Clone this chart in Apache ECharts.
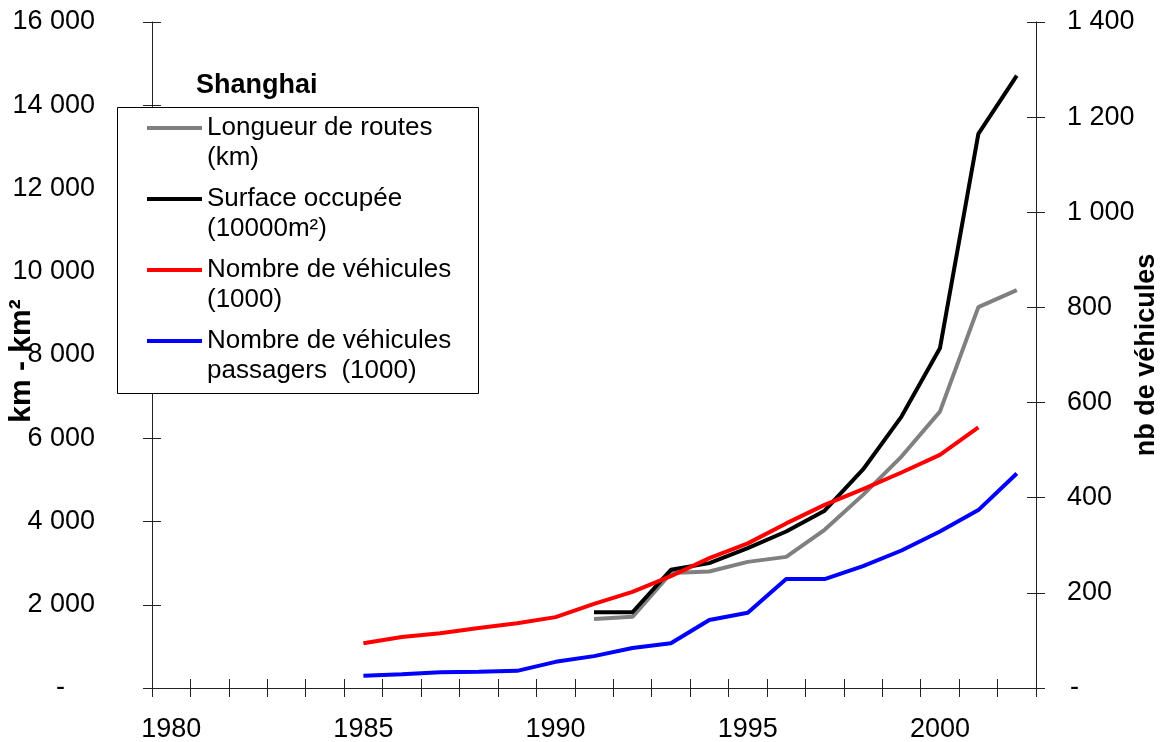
<!DOCTYPE html>
<html lang="fr">
<head>
    <meta charset="UTF-8">
    <title>Shanghai</title>
    <style>
        html, body { margin: 0; padding: 0; background: #fff; }
    </style>
</head>
<body>
<div id="main" style="width: 1166px;height: 742px;"></div>
<script src="https://cdn.jsdelivr.net/npm/echarts@6/dist/echarts.min.js"></script>
<script type="text/javascript">
    // années (axe des x)
    var years = [];
    for (var y = 1980; y <= 2002; y++) years.push(String(y));

    var leftTicks = [0, 2000, 4000, 6000, 8000, 10000, 12000, 14000, 16000];
    var rightTicks = [0, 200, 400, 600, 800, 1000, 1200, 1400];

    var seriesNames = [
        'Longueur de routes\n(km)',
        'Surface occupée\n(10000m²)',
        'Nombre de véhicules\n(1000)',
        'Nombre de véhicules\npassagers  (1000)'
    ];

    // 1980 -> 2002, null = pas de donnée
    var routes = [null, null, null, null, null, null, null, null, null, null, null,
        1660, 1710, 2760, 2800, 3030, 3150, 3800, 4640, 5560, 6640, 9150, 9560];
    var surface = [null, null, null, null, null, null, null, null, null, null, null,
        1820, 1820, 2840, 3000, 3360, 3760, 4260, 5250, 6520, 8160, 13310, 14710];
    var vehicules = [null, null, null, null, null,
        94, 107, 115, 126, 136, 149, 177, 202, 235, 273, 304, 346, 385, 418, 453, 490, 548, null];
    var passagers = [null, null, null, null, null,
        26, 29, 33, 34, 36, 55, 67, 84, 94, 143, 158, 229, 229, 256, 289, 329, 374, 451];

    var FONT = "'Liberation Sans', Arial, sans-serif";

    function fmt(v) {
        return String(v).replace(/\B(?=(\d{3})+(?!\d))/g, ' ');
    }

    var axisLine = {show: true, lineStyle: {color: '#222', width: 1}};
    var tickStyle = {color: '#222', width: 1};

    var myChart = echarts.init(document.getElementById('main'), null, {renderer: 'canvas'});
    var option = {
        animation: false,
        backgroundColor: '#fff',
        textStyle: {fontFamily: FONT, color: '#000'},
        title: {
            text: 'Shanghai',
            left: 196,
            top: 72,
            padding: 0,
            textStyle: {fontFamily: FONT, fontSize: 27, fontWeight: 'bold', color: '#000'}
        },
        graphic: [{
            type: 'rect',
            z: 10,
            shape: {x: 117.5, y: 107.5, width: 361, height: 286},
            style: {fill: '#fff', stroke: '#000', lineWidth: 1}
        }],
        legend: {
            z: 11,
            orient: 'vertical',
            left: 145,
            top: 83,
            padding: 0,
            itemGap: -19,
            itemWidth: 55,
            itemHeight: 14,
            data: seriesNames,
            itemStyle: {opacity: 0, borderWidth: 0},
            lineStyle: {width: 4},
            // ligne vide en tête : la 1re ligne du libellé s'aligne sur le trait
            formatter: function (name) { return ' \n' + name; },
            textStyle: {fontFamily: FONT, fontSize: 26, color: '#000', lineHeight: 30}
        },
        grid: {
            left: 152,
            right: 130,
            top: 22,
            bottom: 54,
            containLabel: false,
            outerBoundsMode: 'none'
        },
        xAxis: [{
            type: 'category',
            data: years,
            boundaryGap: true,
            axisLine: axisLine,
            axisTick: {show: true, interval: 0, inside: false, length: 9, lineStyle: tickStyle},
            axisLabel: {
                interval: function (i) { return i % 5 === 0; },
                margin: 28,
                fontFamily: FONT, fontSize: 27, color: '#000'
            },
            splitLine: {show: false}
        }, {
            type: 'category',
            data: years,
            boundaryGap: true,
            position: 'bottom',
            axisLine: {show: false},
            axisTick: {show: true, interval: 0, inside: true, length: 9, lineStyle: tickStyle},
            axisLabel: {show: false},
            splitLine: {show: false}
        }],
        yAxis: [{
            type: 'value',
            position: 'left',
            min: leftTicks[0],
            max: leftTicks[leftTicks.length - 1],
            interval: 2000,
            name: 'km - km²',
            nameLocation: 'middle',
            nameRotate: 90,
            nameGap: 115,
            nameMoveOverlap: false,
            nameTextStyle: {fontFamily: FONT, fontSize: 30, fontWeight: 'bold', color: '#000', padding: [0, 12, 0, 0]},
            axisLine: axisLine,
            axisTick: {show: true, inside: false, length: 9, lineStyle: tickStyle},
            axisLabel: {
                margin: 57,
                fontFamily: FONT, fontSize: 27, color: '#000',
                formatter: function (v) { return v === 0 ? '{d|-}' : fmt(v); },
                rich: {d: {fontFamily: FONT, fontSize: 27, color: '#000', padding: [0, 30, 0, 0]}}
            },
            splitLine: {show: false}
        }, {
            type: 'value',
            position: 'right',
            min: rightTicks[0],
            max: rightTicks[rightTicks.length - 1],
            interval: 200,
            name: 'nb de véhicules',
            nameLocation: 'middle',
            nameRotate: 90,
            nameGap: 97,
            nameMoveOverlap: false,
            nameTextStyle: {fontFamily: FONT, fontSize: 27, fontWeight: 'bold', color: '#000'},
            axisLine: axisLine,
            axisTick: {show: true, inside: false, length: 9, lineStyle: tickStyle},
            axisLabel: {
                margin: 31,
                fontFamily: FONT, fontSize: 27, color: '#000',
                formatter: function (v) { return v === 0 ? '{d|-}' : fmt(v); },
                rich: {d: {fontFamily: FONT, fontSize: 27, color: '#000', padding: [0, 0, 0, 3]}}
            },
            splitLine: {show: false}
        }, {
            type: 'value',
            position: 'left',
            min: leftTicks[0],
            max: leftTicks[leftTicks.length - 1],
            interval: 2000,
            axisLine: {show: false},
            axisTick: {show: true, inside: true, length: 9, lineStyle: tickStyle},
            axisLabel: {show: false},
            splitLine: {show: false}
        }, {
            type: 'value',
            position: 'right',
            min: rightTicks[0],
            max: rightTicks[rightTicks.length - 1],
            interval: 200,
            axisLine: {show: false},
            axisTick: {show: true, inside: true, length: 9, lineStyle: tickStyle},
            axisLabel: {show: false},
            splitLine: {show: false}
        }],
        series: [
            {
                name: seriesNames[0], type: 'line', yAxisIndex: 0,
                symbol: 'none', color: '#808080',
                lineStyle: {width: 4, color: '#808080'},
                data: routes
            },
            {
                name: seriesNames[1], type: 'line', yAxisIndex: 0,
                symbol: 'none', color: '#000000',
                lineStyle: {width: 4, color: '#000000'},
                data: surface
            },
            {
                name: seriesNames[2], type: 'line', yAxisIndex: 1,
                symbol: 'none', color: '#ff0000',
                lineStyle: {width: 4, color: '#ff0000'},
                data: vehicules
            },
            {
                name: seriesNames[3], type: 'line', yAxisIndex: 1,
                symbol: 'none', color: '#0000ff',
                lineStyle: {width: 4, color: '#0000ff'},
                data: passagers
            }
        ]
    };
    myChart.setOption(option);
</script>
</body>
</html>
